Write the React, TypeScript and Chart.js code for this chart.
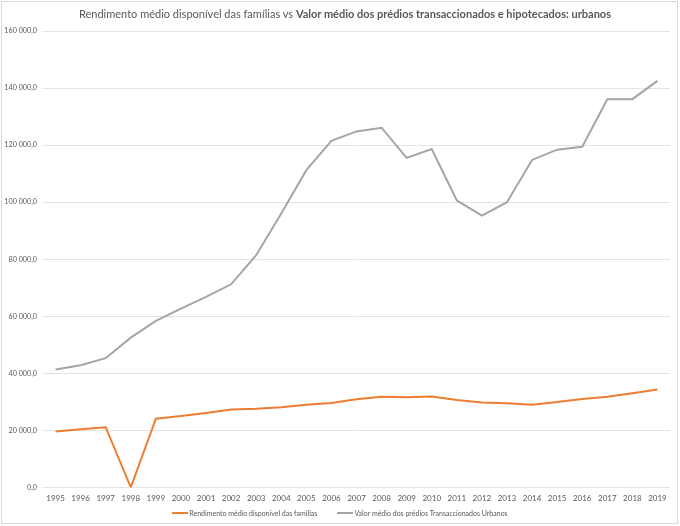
import React, { useEffect, useRef } from "react";
import { Chart, registerables } from "chart.js";

Chart.register(...registerables);

const years = ["1995","1996","1997","1998","1999","2000","2001","2002","2003","2004","2005","2006","2007","2008","2009","2010","2011","2012","2013","2014","2015","2016","2017","2018","2019"];
const rendimento = [19600,20400,21100,0,24100,25000,26100,27300,27600,28100,29000,29600,30900,31800,31600,31900,30600,29800,29500,29000,29900,31000,31800,33000,34300];
const valorPredios = [41300,42800,45300,52500,58400,62700,66800,71200,81400,96000,111200,121500,124800,126100,115500,118600,100600,95300,100000,114800,118400,119400,136100,136100,142500];
const seriesNames = ["Rendimento médio disponível das famílias","Valor médio dos prédios Transaccionados Urbanos"];
const seriesColors = ["#ED7D31", "#A5A5A5"];
const titleNormal = "Rendimento médio disponível das famílias vs ";
const titleBold = "Valor médio dos prédios transaccionados e hipotecados: urbanos";

const FONT = "Lato, 'Liberation Sans', sans-serif";

function fmt(v: number): string {
  const s = Math.round(v).toString().replace(/\B(?=(\d{3})+(?!\d))/g, " ");
  return s + ",0";
}

export default function App() {
  const ref = useRef<HTMLCanvasElement | null>(null);
  useEffect(() => {
    if (!ref.current) return;
    const chart = new Chart(ref.current, {
      type: "line",
      data: {
        labels: years,
        datasets: [
          { label: seriesNames[0], data: rendimento, borderColor: seriesColors[0], backgroundColor: seriesColors[0], borderWidth: 2, pointRadius: 0, tension: 0 },
          { label: seriesNames[1], data: valorPredios, borderColor: seriesColors[1], backgroundColor: seriesColors[1], borderWidth: 2, pointRadius: 0, tension: 0 },
        ],
      },
      options: {
        animation: false,
        responsive: false,
        layout: { padding: { top: 31, right: 10, left: 0, bottom: 17 } },
        plugins: {
          title: { display: false },
          tooltip: { enabled: false },
          legend: { display: false },
        },
        scales: {
          x: {
            offset: true,
            grid: { display: false, drawTicks: false },
            border: { display: false },
            ticks: { color: "#595959", font: { family: FONT, size: 8 }, padding: 6, maxRotation: 0, autoSkip: false },
          },
          y: {
            min: 0,
            max: 160000,
            afterFit: (s: any) => { s.width = 43; },
            grid: { color: "#E3E3E3", lineWidth: 1, drawTicks: false },
            border: { display: false },
            ticks: { stepSize: 20000, color: "#595959", font: { family: FONT, size: 7.2 }, padding: 6, callback: (v: any) => fmt(Number(v)) },
          },
        },
      },
    });
    return () => chart.destroy();
  }, []);
  return (
    <div style={{ position: "fixed", left: 0, top: 0, width: 680, height: 526, background: "#fff" }}>
      <canvas ref={ref} width={680} height={526} style={{ position: "absolute", left: 0, top: 0 }} />
      <div style={{ position: "absolute", left: 1, top: 1, width: 677, height: 523, border: "1px solid #D9D9D9", boxSizing: "border-box", pointerEvents: "none" }} />
      <div style={{ position: "absolute", left: 10, top: 7, width: 670, textAlign: "center", fontFamily: FONT, fontSize: 11, color: "#595959", whiteSpace: "nowrap" }}>
        <span>{titleNormal}</span><span style={{ fontWeight: "bold" }}>{titleBold}</span>
      </div>
      <div style={{ position: "absolute", left: 0, top: 508, width: 680, display: "flex", justifyContent: "center", alignItems: "center", fontFamily: FONT, fontSize: 7, lineHeight: "10px", color: "#595959", whiteSpace: "nowrap" }}>
        {seriesNames.map((n, i) => (
          <span key={n} style={{ display: "flex", alignItems: "center", marginLeft: i === 0 ? 0 : 20 }}>
            <span style={{ display: "inline-block", width: 16, height: 2, background: seriesColors[i], marginRight: 1 }} />
            <span>{n}</span>
          </span>
        ))}
      </div>
    </div>
  );
}
